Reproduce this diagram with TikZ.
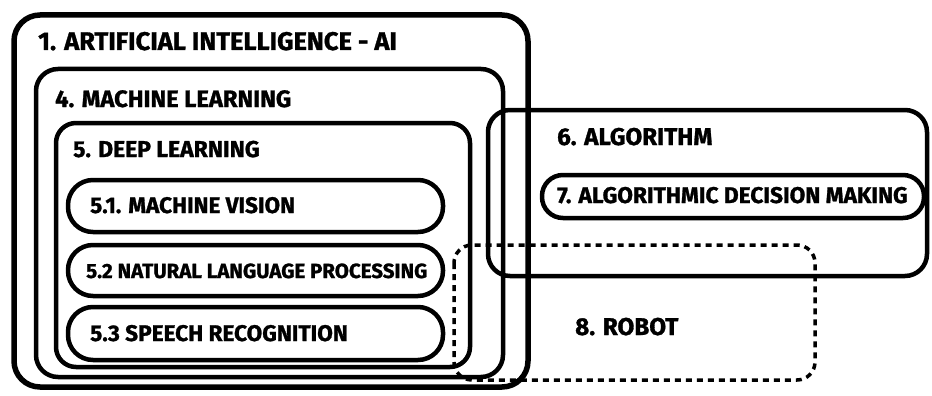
\documentclass[tikz,border=0pt]{standalone}
\usepackage{fontspec}
\setmainfont{Fira Sans}[BoldFeatures={FakeBold=1.2}]
\begin{document}
\begin{tikzpicture}[x=1pt,y=-1pt,
  box/.style={draw=black,line width=4.5pt},
  lbl/.style={anchor=base west,inner sep=0pt,font=\bfseries},
  robotbox/.style={draw=black,line width=3.5pt,dash pattern=on 6pt off 5pt}]
\useasboundingbox[fill=white] (0,0) rectangle (932,396);
% boxes
\draw[box,line width=5.5pt,rounded corners=26pt] (14,15) rectangle (528,387);
\draw[box,rounded corners=22pt] (36,69) rectangle (503,377);
\draw[box,rounded corners=20pt] (56,123) rectangle (470,367);
\draw[box,rounded corners=25pt] (68,180) rectangle (443,232);
\draw[box,rounded corners=25pt] (68,245) rectangle (443,296);
\draw[box,rounded corners=25pt] (68,307) rectangle (443,360);
\draw[box,rounded corners=22pt] (488,110) rectangle (927,276);
\draw[box,rounded corners=21pt] (542,175) rectangle (924,218);
\draw[robotbox,rounded corners=18pt] (454,245) rectangle (815,380);
% labels
\node[lbl,font=\bfseries\fontsize{25.5}{25.5}\selectfont] (ai) at (38,50) {1. ARTIFICIAL INTELLIGENCE - AI};
\node[lbl,font=\bfseries\fontsize{23.7}{23.7}\selectfont] (ml) at (55,107) {4. MACHINE LEARNING};
\node[lbl,font=\bfseries\fontsize{22.9}{22.9}\selectfont] (dl) at (73,157) {5. DEEP LEARNING};
\node[lbl,font=\bfseries\fontsize{22.5}{22.5}\selectfont] (mv) at (90,213) {5.1. MACHINE VISION};
\node[lbl,font=\bfseries\fontsize{20.5}{20.5}\selectfont] (nlp) at (86,278) {5.2 NATURAL LANGUAGE PROCESSING};
\node[lbl,font=\bfseries\fontsize{22.6}{22.6}\selectfont] (sr) at (90,341) {5.3 SPEECH RECOGNITION};
\node[lbl,font=\bfseries\fontsize{24.2}{24.2}\selectfont] (alg) at (557,145) {6. ALGORITHM};
\node[lbl,font=\bfseries\fontsize{22.7}{22.7}\selectfont] (adm) at (557,203) {7. ALGORITHMIC DECISION MAKING};
\node[lbl,font=\bfseries\fontsize{24.3}{24.3}\selectfont] (rob) at (575,335) {8. ROBOT};
\end{tikzpicture}
\end{document}
